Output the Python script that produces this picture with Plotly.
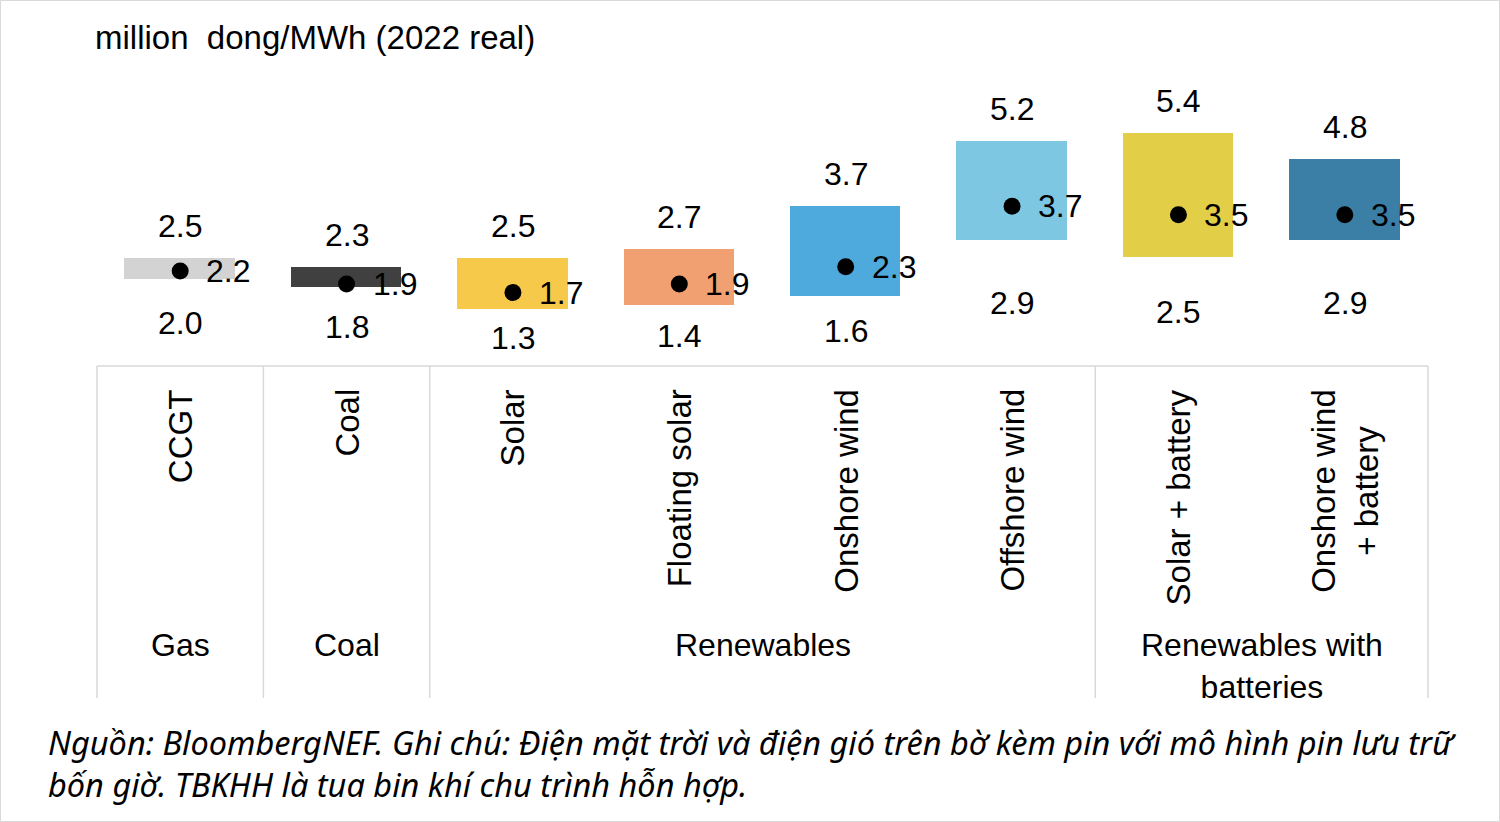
import plotly.graph_objects as go

# ---- data ----
categories = ["CCGT", "Coal", "Solar", "Floating solar", "Onshore wind",
              "Offshore wind", "Solar + battery", "Onshore wind<br>+ battery"]
low_values = [2.0, 1.8, 1.3, 1.4, 1.6, 2.9, 2.5, 2.9]
high_values = [2.5, 2.3, 2.5, 2.7, 3.7, 5.2, 5.4, 4.8]
mid_values = [2.2, 1.9, 1.7, 1.9, 2.3, 3.7, 3.5, 3.5]
groups = ["Gas", "Coal", "Renewables", "Renewables with<br>batteries"]
group_sizes = [1, 1, 4, 2]
colors = ["#d3d3d3", "#404040", "#f6c94a", "#f0a071", "#4ea9dd",
          "#7ec7e2", "#e3cf47", "#3b7fa7"]
unit_label = "million\u00a0 dong/MWh (2022 real)"
footnote = ("Nguồn: BloombergNEF. Ghi chú: Điện mặt trời và điện gió trên bờ kèm pin với mô hình pin lưu trữ"
            "<br>bốn giờ. TBKHH là tua bin khí chu trình hỗn hợp.")

# ---- layout geometry (pixels) ----
W, H = 1500, 822
PL, PR, PT, PB = 97, 1428, 0, 366
PX_PER_UNIT = 43.2
n = len(categories)
xpos = [i + 0.5 for i in range(n)]


def px(xp):
    return (xp - PL) / (PR - PL)


def py(yp):
    return (PB - yp) / (PB - PT)


FONT = "Liberation Sans, Arial, sans-serif"
fs = 32

fig = go.Figure()
fig.add_trace(go.Bar(
    x=xpos, y=[h - l for h, l in zip(high_values, low_values)], base=low_values,
    width=0.67, marker=dict(color=colors, line=dict(color="white", width=1)),
    hoverinfo="skip", showlegend=False))
fig.add_trace(go.Scatter(
    x=xpos, y=mid_values, mode="markers",
    marker=dict(color="black", size=17), showlegend=False, hoverinfo="skip"))

ann = []
for x, lo, hi, mid in zip(xpos, low_values, high_values, mid_values):
    # high value: outside end of the bar
    ann.append(dict(x=x, y=hi, xref="x", yref="y", text=f"{hi:.1f}", showarrow=False,
                    yanchor="middle", yshift=32, font=dict(size=fs, color="black", family=FONT)))
    # low value: centred in the (invisible) base segment from 0 to low
    ann.append(dict(x=x, y=lo / 2, xref="x", yref="y", text=f"{lo:.1f}", showarrow=False,
                    yanchor="middle", font=dict(size=fs, color="black", family=FONT)))
    # mid value: right of the marker
    ann.append(dict(x=x, y=mid, xref="x", yref="y", text=f"{mid:.1f}", showarrow=False,
                    xanchor="left", yanchor="middle", xshift=24,
                    font=dict(size=fs, color="black", family=FONT)))

for x, c in zip(xpos, categories):
    ann.append(dict(x=x, y=py(387), xref="x", yref="paper", text=c, showarrow=False,
                    textangle=-90, xanchor="center", yanchor="top",
                    font=dict(size=33, color="black", family=FONT)))

shapes = []
start = 0
bounds = [0]
for g, s in zip(groups, group_sizes):
    center = (start + s / 2) / n
    ann.append(dict(x=center, y=py(625), xref="paper", yref="paper", text=g, showarrow=False,
                    xanchor="center", yanchor="top",
                    font=dict(size=fs, color="black", family=FONT)))
    start += s
    bounds.append(start)

for b in bounds:
    shapes.append(dict(type="line", xref="paper", yref="paper", x0=b / n, x1=b / n,
                       y0=0, y1=py(698), line=dict(color="#d9d9d9", width=1.5)))
shapes.append(dict(type="line", xref="paper", yref="paper", x0=0, x1=1, y0=0, y1=0,
                   line=dict(color="#d9d9d9", width=1.5)))
shapes.append(dict(type="rect", xref="paper", yref="paper", x0=px(0.5), x1=px(W - 0.5),
                   y0=py(H - 0.5), y1=py(0.5), line=dict(color="#d9d9d9", width=1)))

ann.append(dict(x=px(93), y=py(37), xref="paper", yref="paper", text=unit_label,
                showarrow=False, xanchor="left", yanchor="middle",
                font=dict(size=33, color="black", family=FONT)))
ann.append(dict(x=px(46), y=py(718), xref="paper", yref="paper", text=footnote,
                showarrow=False, xanchor="left", yanchor="top", align="left",
                font=dict(size=32.5, color="black", family="Noto Sans, sans-serif", style="italic")))

fig.update_layout(
    width=W, height=H, margin=dict(l=PL, r=W - PR, t=PT, b=H - PB),
    paper_bgcolor="white", plot_bgcolor="white",
    xaxis=dict(range=[0, n], visible=False, fixedrange=True),
    yaxis=dict(range=[0, (PB - PT) / PX_PER_UNIT], visible=False, fixedrange=True),
    annotations=ann, shapes=shapes, bargap=0,
)

fig.write_html("out.html", config={"displayModeBar": False},
               post_script="document.body.style.margin='0';")
